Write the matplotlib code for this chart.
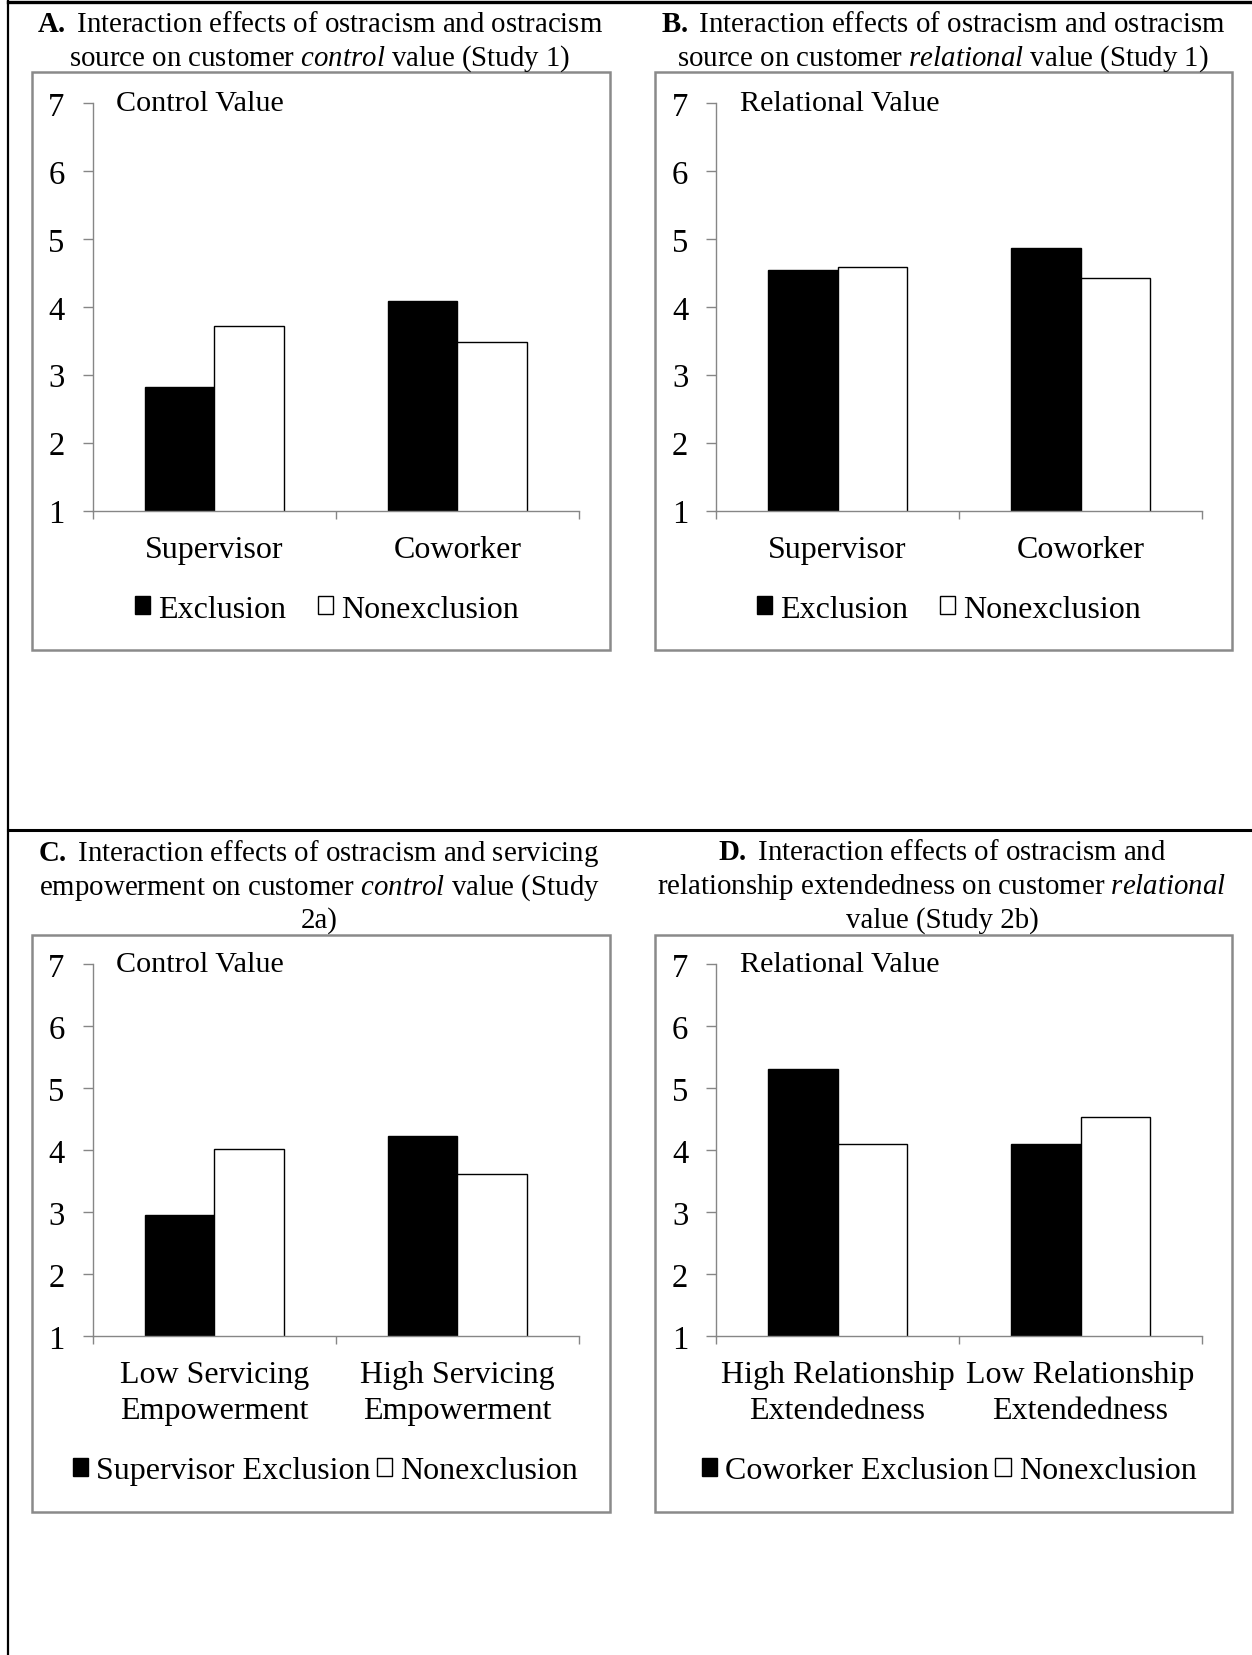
import numpy as np
import matplotlib
matplotlib.use('Agg')
import matplotlib.pyplot as plt
from matplotlib.patches import Rectangle, Patch
from matplotlib.lines import Line2D

plt.rcParams['font.family'] = ['Liberation Serif', 'DejaVu Serif']
plt.rcParams['mathtext.fontset'] = 'custom'
plt.rcParams['mathtext.rm'] = 'Liberation Serif'
plt.rcParams['mathtext.it'] = 'Liberation Serif:italic'
plt.rcParams['mathtext.bf'] = 'Liberation Serif:bold'

# values
cats_a = ['Supervisor', 'Coworker']
excl_a = [2.82, 4.09]
nonexcl_a = [3.71, 3.48]

cats_b = ['Supervisor', 'Coworker']
excl_b = [4.54, 4.86]
nonexcl_b = [4.58, 4.43]

cats_c = ['Low Servicing\nEmpowerment', 'High Servicing\nEmpowerment']
excl_c = [2.95, 4.23]
nonexcl_c = [4.02, 3.61]

cats_d = ['High Relationship\nExtendedness', 'Low Relationship\nExtendedness']
excl_d = [5.31, 4.10]
nonexcl_d = [4.10, 4.53]

yticks = [1, 2, 3, 4, 5, 6, 7]

titles_a = [r'$\mathbf{A.}$ Interaction effects of ostracism and ostracism',
            r'source on customer $\mathit{control}$ value (Study 1)']
titles_b = [r'$\mathbf{B.}$ Interaction effects of ostracism and ostracism',
            r'source on customer $\mathit{relational}$ value (Study 1)']
titles_c = [r'$\mathbf{C.}$ Interaction effects of ostracism and servicing',
            r'empowerment on customer $\mathit{control}$ value (Study',
            '2a)']
titles_d = [r'$\mathbf{D.}$ Interaction effects of ostracism and',
            r'relationship extendedness on customer $\mathit{relational}$',
            'value (Study 2b)']

W, H = 1252, 1656
fig = plt.figure(figsize=(W / 100, H / 100), dpi=100)


def fx(x):
    return x / W


def fy(y):
    return 1 - y / H


# table lines around the figure
for xs, ys, lw in [([8, W], [3, 3], 2.4), ([8, 8], [0, H], 1.6), ([8, W], [831, 831], 2.2)]:
    fig.add_artist(Line2D([fx(v) for v in xs], [fy(v) for v in ys], color='black', lw=lw))

AXIS_GRAY = '#868686'


def panel(box, ax_x, ax_y, titles, title_x, title_ys, cats, excl, nonexcl,
          ylab, leg_labels, leg_x, leg_y, colspace):
    bx0, by0, bx1, by1 = box
    fig.add_artist(Rectangle((fx(bx0), fy(by1)), (bx1 - bx0) / W, (by1 - by0) / H,
                             transform=fig.transFigure, fill=False,
                             edgecolor='#8a8a8a', lw=1.8))
    for t, ty in zip(titles, title_ys):
        fig.text(fx(title_x), fy(ty), t, ha='center', va='center', fontsize=20.8)

    x0, x1 = ax_x
    y7, y1 = ax_y
    ax = fig.add_axes([fx(x0), fy(y1), (x1 - x0) / W, (y1 - y7) / H])
    ax.patch.set_alpha(0)
    x = np.arange(len(cats))
    w = 0.286
    ax.bar(x - w / 2, excl, w, color='black', edgecolor='black', lw=1)
    ax.bar(x + w / 2, nonexcl, w, color='white', edgecolor='black', lw=1)
    ax.set_ylim(1, 7)
    ax.set_xlim(-0.5, len(cats) - 0.5)
    for s in ['top', 'right']:
        ax.spines[s].set_visible(False)
    for s in ['left', 'bottom']:
        ax.spines[s].set_color(AXIS_GRAY)
        ax.spines[s].set_linewidth(1)
    ax.set_yticks(yticks)
    ax.tick_params(axis='y', length=7, width=1, color=AXIS_GRAY, labelsize=23.5, pad=13)
    ax.set_xticks(x)
    ax.set_xticklabels(cats, linespacing=1.32)
    ax.tick_params(axis='x', which='major', length=0, labelsize=23, pad=17.5)
    ax.set_xticks(np.arange(len(cats) + 1) - 0.5, minor=True)
    ax.tick_params(axis='x', which='minor', length=6, width=1, color=AXIS_GRAY)

    fig.text(fx(x0 + 24), fy(y7), ylab, ha='left', va='center', fontsize=21.7)

    handles = [Patch(facecolor='black', edgecolor='black'),
               Patch(facecolor='white', edgecolor='black')]
    fig.legend(handles, leg_labels, loc='center', bbox_to_anchor=(fx(leg_x), fy(leg_y)),
               ncol=2, frameon=False, fontsize=23, handlelength=0.48, handleheight=0.48,
               handletextpad=0.25, columnspacing=colspace, borderpad=0)
    return ax


panel((32, 73, 610, 651), (92.5, 579), (104, 511.5), titles_a, 320, [25, 59],
      cats_a, excl_a, nonexcl_a, 'Control Value', ['Exclusion', 'Nonexclusion'],
      327, 610, 1.0)
panel((655, 73, 1232, 651), (716, 1202), (104, 511.5), titles_b, 943, [25, 59],
      cats_b, excl_b, nonexcl_b, 'Relational Value', ['Exclusion', 'Nonexclusion'],
      949, 610, 1.0)
panel((32, 936, 610, 1513), (92.5, 579), (965, 1337), titles_c, 319, [853.5, 887.5, 921],
      cats_c, excl_c, nonexcl_c, 'Control Value', ['Supervisor Exclusion', 'Nonexclusion'],
      325.5, 1471.5, 0.2)
panel((655, 936, 1232, 1513), (716, 1202), (965, 1337), titles_d, 942, [853.5, 887.5, 921],
      cats_d, excl_d, nonexcl_d, 'Relational Value', ['Coworker Exclusion', 'Nonexclusion'],
      949, 1471.5, 0.2)

fig.savefig('out.png', dpi=100)
